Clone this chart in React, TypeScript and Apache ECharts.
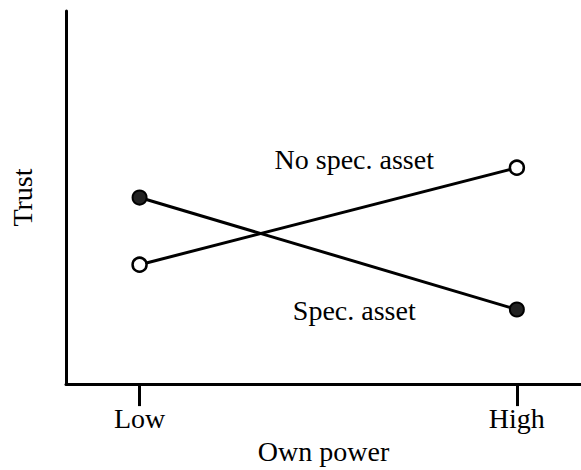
import React, { useEffect, useRef } from "react";
import * as echarts from "echarts";

const xCategories = ["Low", "High"];
const xPositions = [0, 1];
const specAsset = [50, 20];
const noSpecAsset = [32, 58];
const annotationTexts = ["No spec. asset", "Spec. asset"];
const annotationX = [0.569, 0.569];
const annotationY = [60.2, 19.8];

const FONT = "'Liberation Serif', 'Times New Roman', serif";
const FS = 28;

export default function App() {
  const ref = useRef<HTMLDivElement>(null);
  useEffect(() => {
    if (!ref.current) return;
    const chart = echarts.init(ref.current, undefined, { renderer: "svg" });
    const lineStyleAxis = { color: "#000", width: 3 };
    chart.setOption({
      animation: false,
      grid: { left: 63, right: 0, top: 11, bottom: 82, containLabel: false },
      xAxis: {
        type: "value",
        min: -0.195,
        max: 1.17,
        name: "Own power",
        nameLocation: "middle",
        nameGap: 52,
        nameTextStyle: { fontFamily: FONT, fontSize: FS, color: "#000" },
        axisLine: { show: true, onZero: false, lineStyle: lineStyleAxis },
        axisTick: { show: true, customValues: xPositions, length: 22, lineStyle: lineStyleAxis },
        axisLabel: {
          show: true,
          customValues: xPositions,
          margin: 20,
          fontFamily: FONT,
          fontSize: FS,
          color: "#000",
          formatter: (v: number) => xCategories[Math.round(v)] ?? "",
        },
        splitLine: { show: false },
      },
      yAxis: {
        type: "value",
        min: 0,
        max: 100,
        name: "Trust",
        nameLocation: "middle",
        nameGap: 30,
        nameTextStyle: { fontFamily: FONT, fontSize: FS, color: "#000" },
        axisLine: { show: true, onZero: false, lineStyle: lineStyleAxis },
        axisTick: { show: false },
        axisLabel: { show: false },
        splitLine: { show: false },
      },
      series: [
        {
          type: "line",
          data: xPositions.map((x, i) => [x, specAsset[i]]),
          symbol: "circle",
          symbolSize: 14,
          lineStyle: { color: "#000", width: 3 },
          itemStyle: { color: "#222", borderColor: "#000", borderWidth: 2 },
        },
        {
          type: "line",
          data: xPositions.map((x, i) => [x, noSpecAsset[i]]),
          symbol: "circle",
          symbolSize: 14,
          lineStyle: { color: "#000", width: 3 },
          itemStyle: { color: "#fff", borderColor: "#000", borderWidth: 2.5 },
        },
        {
          type: "scatter",
          symbolSize: 0,
          itemStyle: { opacity: 1, color: "#000" },
          data: annotationTexts.map((t, i) => ({ value: [annotationX[i], annotationY[i]], name: t })),
          label: {
            show: true,
            position: "inside",
            formatter: (p: any) => p.name,
            fontFamily: FONT,
            fontSize: FS,
            color: "#000",
            textBorderWidth: 0,
          },
          silent: true,
        },
      ],
    });
    return () => chart.dispose();
  }, []);
  return <div ref={ref} style={{ width: 581, height: 470, position: "absolute", left: 0, top: 0 }} />;
}
